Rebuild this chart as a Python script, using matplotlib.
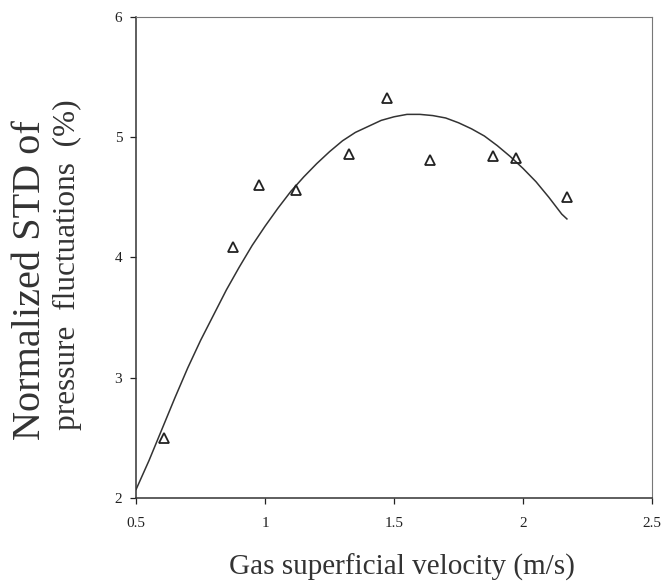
import numpy as np
import matplotlib.pyplot as plt

plt.rcParams['font.family'] = ['Liberation Serif', 'DejaVu Serif']

# measured points (gas velocity, normalized STD)
velocity = [0.61, 0.876, 0.977, 1.12, 1.326, 1.473, 1.64, 1.884, 1.973, 2.17]
std_pct = [2.50, 4.09, 4.60, 4.56, 4.86, 5.33, 4.81, 4.84, 4.83, 4.50]

# trend curve
trend_x = [0.50, 0.55, 0.60, 0.65, 0.70, 0.75, 0.80, 0.85, 0.90, 0.95,
           1.00, 1.05, 1.10, 1.15, 1.20, 1.25, 1.30, 1.35, 1.40, 1.45,
           1.50, 1.55, 1.60, 1.65, 1.70, 1.75, 1.80, 1.85, 1.90, 1.95,
           2.00, 2.05, 2.10, 2.15, 2.17]
trend_y = [2.07, 2.31, 2.57, 2.83, 3.08, 3.31, 3.52, 3.73, 3.92, 4.10,
           4.26, 4.41, 4.55, 4.67, 4.78, 4.88, 4.97, 5.04, 5.09, 5.14,
           5.17, 5.19, 5.19, 5.18, 5.16, 5.12, 5.07, 5.01, 4.93, 4.84,
           4.74, 4.63, 4.50, 4.36, 4.32]

xticks = [0.5, 1, 1.5, 2, 2.5]
xtick_labels = ["0.5", "1", "1.5", "2", "2.5"]
yticks = [2, 3, 4, 5, 6]

W, H = 664, 587
fig = plt.figure(figsize=(W / 100, H / 100), dpi=100)
ax = fig.add_axes([0.205, 0.152, 0.777, 0.819])

ax.plot(trend_x, trend_y, color="#333333", lw=1.1)
ax.plot(velocity, std_pct, linestyle="none", marker="^", markersize=7,
        markerfacecolor="none", markeredgecolor="#222222", markeredgewidth=1.3)

ax.set_xlim(0.5, 2.5)
ax.set_ylim(2, 6)
ax.set_xticks(xticks)
ax.set_xticklabels(xtick_labels)
ax.set_yticks(yticks)
ax.tick_params(direction="out", length=4, width=0.9, labelsize=11,
               colors="#222222")
ax.tick_params(axis="x", pad=10)
ax.tick_params(axis="y", pad=6)

for side in ["left", "bottom"]:
    ax.spines[side].set_color("#333333")
    ax.spines[side].set_linewidth(1.1)
for side in ["top", "right"]:
    ax.spines[side].set_color("#777777")
    ax.spines[side].set_linewidth(0.8)

# axis titles placed by pixel position
fig.text(402 / W, 1 - 567 / H, "Gas superficial velocity (m/s)", fontsize=21,
         color="#333333", ha="center", va="center")
fig.text(31 / W, 1 - 280 / H, "Normalized STD of", fontsize=29,
         color="#333333", ha="center", va="center", rotation=90)
fig.text(67 / W, 1 - 265 / H, "pressure  fluctuations  (%)", fontsize=22.5,
         color="#333333", ha="center", va="center", rotation=90)

fig.savefig("out.png", dpi=100, facecolor="white")
